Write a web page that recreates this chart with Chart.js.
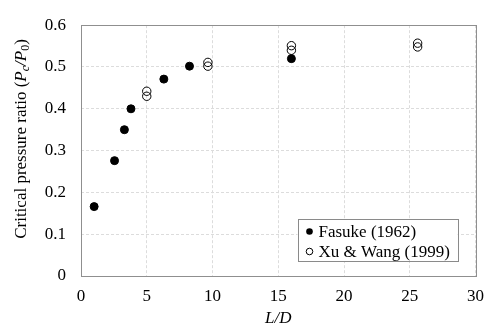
<!DOCTYPE html>
<html>
<head>
<meta charset="utf-8">
<script src="https://cdn.jsdelivr.net/npm/chart.js@4"></script>
<style>
    html, body { margin: 0; padding: 0; background: #fff; }
    #wrap { width: 494px; height: 329px; position: relative; }
</style>
</head>
<body>
<div id="wrap"><canvas id="lengthChart"></canvas></div>
<script>
// Data
const fasukeLD = [1.0, 2.55, 3.3, 3.8, 6.3, 8.25, 16.0];
const fasukeRatio = [0.166, 0.276, 0.350, 0.400, 0.471, 0.502, 0.520];

const xuWangLD = [5.0, 5.0, 9.65, 9.65, 16.0, 16.0, 25.6, 25.6];
const xuWangRatio = [0.442, 0.430, 0.511, 0.502, 0.551, 0.540, 0.557, 0.548];

const seriesNames = ['Fasuke (1962)', 'Xu & Wang (1999)'];
const xTickLabels = ['0', '5', '10', '15', '20', '25', '30'];
const yTickLabels = ['0', '0.1', '0.2', '0.3', '0.4', '0.5', '0.6'];

const FONT = '"Liberation Serif", "Times New Roman", serif';
const GRID = '#dcdcdc';
const AXIS = '#8f8f8f';

function toPoints(xs, ys) {
    return xs.map((x, i) => ({ x: x, y: ys[i] }));
}

// Plot box + y title + inside legend
const decorations = {
    id: 'decorations',
    afterDatasetsDraw(chart) {
        const ctx = chart.ctx;
        const a = chart.chartArea;
        ctx.save();
        ctx.strokeStyle = AXIS;
        ctx.lineWidth = 1;
        ctx.strokeRect(Math.round(a.left) + 0.5, Math.round(a.top) + 0.5,
            Math.round(a.right - a.left), Math.round(a.bottom - a.top));

        // legend box
        const lx = a.right - 178, ly = a.bottom - 57;
        const lw = 160, lh = 42;
        ctx.fillStyle = '#fff';
        ctx.fillRect(lx, ly, lw, lh);
        ctx.strokeStyle = '#8a8a8a';
        ctx.strokeRect(Math.round(lx) + 0.5, Math.round(ly) + 0.5, lw, lh);
        ctx.font = '17px ' + FONT;
        ctx.textBaseline = 'middle';
        ctx.fillStyle = '#000';
        seriesNames.forEach((name, i) => {
            const cy = ly + 12.5 + i * 20;
            ctx.beginPath();
            ctx.arc(lx + 12, cy, 3.3, 0, Math.PI * 2);
            if (i === 0) {
                ctx.fill();
            } else {
                ctx.lineWidth = 1;
                ctx.strokeStyle = '#000';
                ctx.stroke();
            }
            ctx.fillText(name, lx + 21, cy + 1);
        });

        // y axis title with italic/subscript parts
        const parts = [
            { t: 'Critical pressure ratio (', f: '17px ' + FONT, dy: 0 },
            { t: 'P', f: 'italic 17px ' + FONT, dy: 0 },
            { t: 'c', f: 'italic 12px ' + FONT, dy: 4 },
            { t: '/', f: 'italic 17px ' + FONT, dy: 0 },
            { t: 'P', f: 'italic 17px ' + FONT, dy: 0 },
            { t: '0', f: '12px ' + FONT, dy: 4 },
            { t: ')', f: '17px ' + FONT, dy: 0 }
        ];
        let total = 0;
        parts.forEach(p => { ctx.font = p.f; p.w = ctx.measureText(p.t).width; total += p.w; });
        ctx.translate(22, 139);
        ctx.rotate(-Math.PI / 2);
        ctx.textBaseline = 'middle';
        ctx.textAlign = 'left';
        let x = -total / 2;
        parts.forEach(p => {
            ctx.font = p.f;
            ctx.fillText(p.t, x, p.dy);
            x += p.w;
        });
        ctx.restore();
    }
};

const ctx = document.getElementById('lengthChart').getContext('2d');
const lengthChart = new Chart(ctx, {
    type: 'scatter',
    data: {
        datasets: [{
            label: seriesNames[0],
            data: toPoints(fasukeLD, fasukeRatio),
            backgroundColor: '#000',
            borderColor: '#000',
            borderWidth: 1,
            pointRadius: 4
        }, {
            label: seriesNames[1],
            data: toPoints(xuWangLD, xuWangRatio),
            backgroundColor: 'rgba(0,0,0,0)',
            borderColor: '#000',
            borderWidth: 1,
            pointRadius: 4.2
        }]
    },
    options: {
        responsive: true,
        maintainAspectRatio: false,
        animation: false,
        layout: { padding: { left: 0, top: 15, right: 15, bottom: 0 } },
        plugins: {
            legend: { display: false },
            tooltip: { enabled: false }
        },
        scales: {
            x: {
                type: 'linear',
                min: 0,
                max: 30,
                afterFit: s => { s.height = 53; },
                afterBuildTicks: s => { s.ticks = xTickLabels.map(v => ({ value: Number(v) })); },
                ticks: {
                    padding: 10,
                    color: '#000',
                    font: { family: FONT, size: 17 },
                    callback: (v, i) => xTickLabels[i]
                },
                grid: { color: GRID, drawTicks: false },
                border: { display: false, dash: [3, 2] },
                title: {
                    display: true,
                    text: 'L/D',
                    color: '#000',
                    font: { family: FONT, size: 17, style: 'italic' },
                    padding: { top: 0, bottom: 0 }
                }
            },
            y: {
                min: 0,
                max: 0.6,
                afterFit: s => { s.width = 81; },
                afterBuildTicks: s => { s.ticks = yTickLabels.map(v => ({ value: Number(v) })); },
                ticks: {
                    padding: 15,
                    color: '#000',
                    font: { family: FONT, size: 17 },
                    callback: (v, i) => yTickLabels[i]
                },
                grid: { color: GRID, drawTicks: false },
                border: { display: false, dash: [3, 2] }
            }
        }
    },
    plugins: [decorations]
});
</script>
</body>
</html>
